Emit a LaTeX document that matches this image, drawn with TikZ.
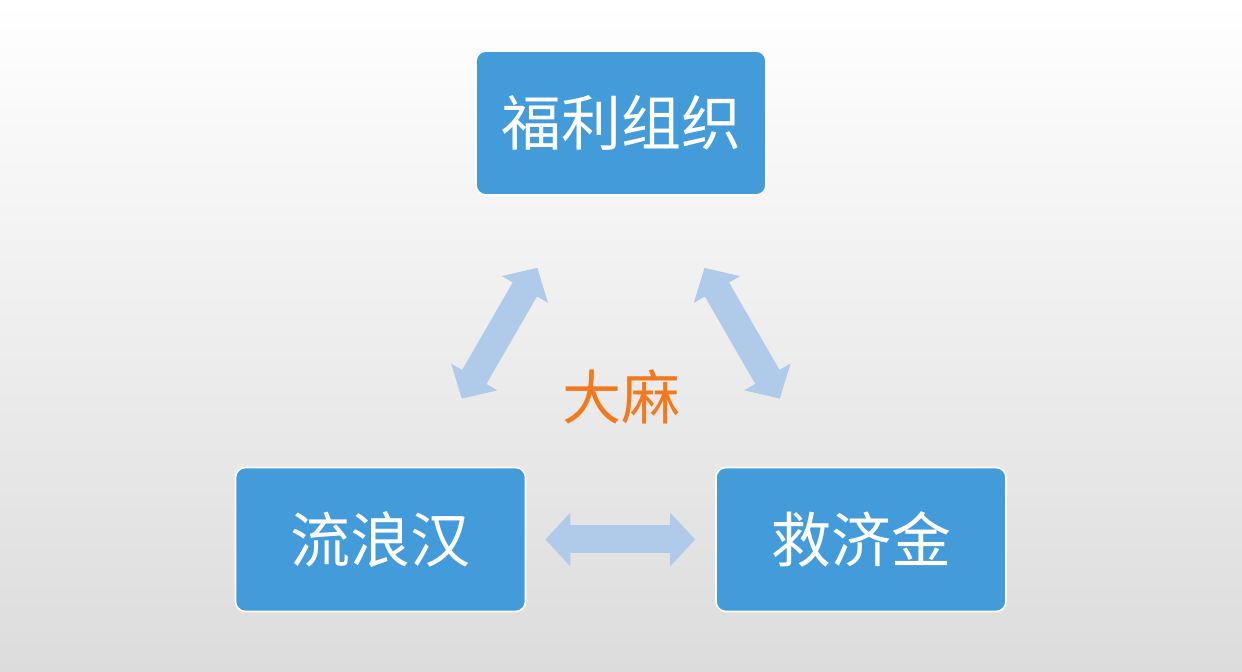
\documentclass[tikz,border=0pt]{standalone}
\usepackage{fontspec}
\newfontfamily\cjk{Noto Sans CJK SC}
\usetikzlibrary{arrows.meta}

\definecolor{boxblue}{RGB}{68,155,218}
\definecolor{arrowblue}{RGB}{176,202,234}
\definecolor{hemporange}{RGB}{242,122,30}
\definecolor{bggray}{RGB}{220,220,220}

\begin{document}
\begin{tikzpicture}[x=0.5pt, y=-0.5pt,
    box/.style={draw=white, line width=0.8pt, fill=boxblue, rounded corners=5pt,
      minimum width=145pt, minimum height=72pt, inner sep=0pt,
      text=white, font=\cjk\fontsize{30}{36}\selectfont},
    link/.style={arrowblue, line width=14pt,
      {Triangle[width=26pt, length=12.5pt]}-{Triangle[width=26pt, length=12.5pt]}}
  ]

    % background
    \shade[top color=white, bottom color=bggray] (0,0) rectangle (1242,672);
    \useasboundingbox (0,0) rectangle (1242,672);

    \node[box] (welfare) at (621, 123)   {福利组织};
    \node[box] (tramp)   at (380.5, 539.5) {流浪汉};
    \node[box] (relief)  at (861, 539.5)   {救济金};

    \node[text=hemporange, font=\cjk\fontsize{29.5}{34}\selectfont] (hemp) at (621, 397) {大麻};

    \draw[link, shorten <=41.6pt, shorten >=39.3pt] (welfare) -- (tramp);
    \draw[link, shorten <=41.6pt, shorten >=39.3pt] (welfare) -- (relief);
    \draw[link, shorten <=9.5pt,  shorten >=10pt]   (tramp)   -- (relief);

\end{tikzpicture}
\end{document}
